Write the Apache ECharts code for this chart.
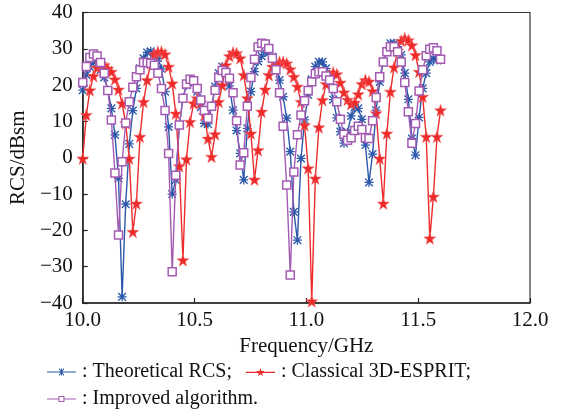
<!DOCTYPE html>
<html>
<head>
<meta charset="utf-8">
<script src="https://cdn.jsdelivr.net/npm/echarts@6/dist/echarts.min.js"></script>
<style>
html,body{margin:0;padding:0;background:#fff;}
#chart{width:566px;height:417px;}
</style>
</head>
<body>
<div id="chart"></div>
<script>
// Frequency samples (GHz)
const freqs = [10, 10.016, 10.032, 10.048, 10.064, 10.08, 10.096, 10.112, 10.128, 10.144,
  10.16, 10.176, 10.192, 10.208, 10.224, 10.24, 10.256, 10.272, 10.288, 10.304,
  10.32, 10.336, 10.352, 10.368, 10.384, 10.4, 10.416, 10.432, 10.448, 10.464,
  10.48, 10.496, 10.512, 10.528, 10.544, 10.56, 10.576, 10.592, 10.608, 10.624,
  10.64, 10.656, 10.672, 10.688, 10.704, 10.72, 10.736, 10.752, 10.768, 10.784,
  10.8, 10.816, 10.832, 10.848, 10.864, 10.88, 10.896, 10.912, 10.928, 10.944,
  10.96, 10.976, 10.992, 11.008, 11.024, 11.04, 11.056, 11.072, 11.088, 11.104,
  11.12, 11.136, 11.152, 11.168, 11.184, 11.2, 11.216, 11.232, 11.248, 11.264,
  11.28, 11.296, 11.312, 11.328, 11.344, 11.36, 11.376, 11.392, 11.408, 11.424,
  11.44, 11.456, 11.472, 11.488, 11.504, 11.52, 11.536, 11.552, 11.568, 11.584, 11.6];

// Theoretical RCS (dBsm)
const theoretical = [18.6, 22.8, 25, 26.4, 26, 24.2, 22.1, 18.6, 13.6, 6.3,
  -5.7, -38.3, -12.8, 3.8, 13, 19.1, 24.6, 27.4, 29, 29.3,
  28.8, 27.4, 24.5, 18.2, 8.5, -10, -6.1, 9, 16.4, 20,
  21.6, 20.5, 18.2, 13.9, 9.5, 9.3, 14.2, 19.6, 23.3, 25.1,
  23.7, 19.8, 13.1, 7.5, 1.2, -6.1, 8.1, 18.2, 23.7, 26.5,
  28, 29, 29, 27.8, 25.5, 21.4, 16.8, 10.9, 1.7, -14.9,
  -22.7, -0.2, 10.4, 17.3, 21.6, 25.1, 26.4, 26.4, 24.6, 20.5,
  16, 11, 7.2, 4, 7, 11.5, 13.9, 13.6, 10.6, 3.5,
  -6.8, 1, 13.1, 20.9, 26.4, 29.2, 31.5, 31.5, 30.6, 28.3,
  23.3, 16.1, 5.3, 0.7, 11.1, 19.1, 23.3, 26.4, 27.4, 26.9, 26.9];

// Classical 3D-ESPRIT (dBsm)
const classical = [-0.2, 11.8, 18.6, 22.5, 24.8, 25.8, 25.5, 24.6, 23.7, 21.6,
  18.8, 15, 9.5, -0.2, -20.4, -12.6, 5.8, 15.4, 21.4, 26,
  28.5, 29.2, 29.2, 28.5, 25.1, 20.5, 12.2, -2.3, -28.2, -0.4,
  9.9, 15, 16.4, 15.2, 11.8, 5.3, 0.3, 6.5, 15.4, 20,
  25.5, 28, 29, 28.8, 27.4, 22.8, 16.4, 6.7, -6, 2.1,
  12.7, 18.8, 22.8, 25.1, 26, 26.4, 26.4, 26, 24.4, 22.3,
  19.6, 15.4, 9, -2.9, -39.5, -5.7, 8.4, 15.9, 20.3, 22.8,
  23.5, 23, 20.7, 18, 16, 14.8, 15.2, 17.5, 20.3, 21.4,
  21, 18.4, 12.3, -0.2, -12.6, 6.7, 18.2, 24.9, 29.5, 32.2,
  32.9, 32.4, 31, 28.3, 23.7, 16.8, 5.8, -22.2, -10.7, 5.8, 13.1];

// Improved algorithm (dBsm)
const improved = [20.7, 25.1, 27.6, 28.6, 28, 26.2, 23.3, 18.5, 10.4, -4.2,
  -21.3, -1.1, 9.6, 15.4, 19.4, 22.3, 24.2, 26.2, 26.2, 26,
  25.5, 23.3, 19.1, 13, 1.2, -31.4, -4.8, 9, 16.4, 20.3,
  21.6, 21.2, 19.1, 15.9, 13, 10.9, 14.2, 18.6, 22.1, 24,
  23.5, 21.9, 17.9, 10.2, -2, 1.4, 14.2, 22.1, 27.1, 30.5,
  31.5, 31.3, 30.1, 27.4, 24.2, 17.9, 8.7, -7.5, -32.3, -3.9,
  6.3, 11.8, 15.7, 18.5, 20.9, 23.1, 23.7, 23.7, 22.5, 21.4,
  19.1, 15.4, 10.6, 6.5, 4.8, 5.5, 7.5, 8.7, 7.8, 5.5,
  5.3, 10.2, 16.6, 22.3, 26.4, 29.2, 30.6, 30.6, 29.2, 26.4,
  20.7, 12.7, 4, 9.4, 18.4, 24.2, 28.1, 29.9, 30.3, 29.5, 27.1];

const seriesNames = ['Theoretical RCS', 'Classical 3D-ESPRIT', 'Improved algorithm'];
const legendTexts = [': Theoretical RCS;', ': Classical 3D-ESPRIT;', ': Improved algorithm.'];

const xMin = 10, xMax = 12, xStep = 0.5;
const yMin = -40, yMax = 40, yStep = 10;

const FONT = '"Liberation Serif", "DejaVu Serif", serif';
const BLUE = '#2B58AA', RED = '#EE2B2B', PURPLE = '#A35BB3';

const asterisk = 'path://M0 8.6H20V11.4H0Z M8.6 0H11.4V20H8.6Z M0.44 2.56L2.56 0.44L19.56 17.44L17.44 19.56Z M17.44 0.44L19.56 2.56L2.56 19.56L0.44 17.44Z';
const star = 'path://M10 0L12.35 6.76L19.51 6.91L13.8 11.24L15.88 18.09L10 14L4.12 18.09L6.2 11.24L0.49 6.91L7.65 6.76Z';

// legend icons: short line with a small marker, drawn in a 29-px-wide box
const legAsterisk = 'path://M0 2.9H29V4.1H0Z M11 3.05H18V3.95H11Z M14.05 0H14.95V7H14.05Z M11.8 0.5L12.5 -0.2L17.2 6.5L16.5 7.2Z M16.5 -0.2L17.2 0.5L12.5 7.2L11.8 6.5Z';
const legStar = 'path://M0 3.8H29V5H0Z M14.5 0L15.53 2.97L18.68 3.04L16.17 4.95L17.09 7.96L14.5 6.16L11.91 7.96L12.83 4.95L10.32 3.04L13.47 2.97Z';
const legSquare = 'path://M0 2.45H11.5V3.55H0Z M17.5 2.45H29V3.55H17.5Z M11.5 0H17.5V6H11.5Z M12.6 1.1V4.9H16.4V1.1Z';

function pairs(vals){ return freqs.map((f,i)=>[f, vals[i]]); }

const chart = echarts.init(document.getElementById('chart'), null, {renderer:'canvas'});
const legendFmt = name => legendTexts[seriesNames.indexOf(name)];
const legendBase = {
  orient: 'horizontal', itemWidth: 29, itemGap: 14,
  textStyle: {fontFamily: FONT, fontSize: 20, color: '#111', padding:[0,0,0,1]},
  formatter: legendFmt, selectedMode: false, padding: 0
};
chart.setOption({
  animation: false,
  backgroundColor: '#fff',
  grid: {left: 81, right: 36, top: 12.5, bottom: 114, show: true, borderColor: '#333', borderWidth: 1.2, backgroundColor: 'transparent'},
  legend: [
    Object.assign({}, legendBase, {left: 47, top: 362, itemHeight: 8, data: [
      {name: seriesNames[0], icon: legAsterisk, itemStyle: {color: BLUE, borderWidth: 0}},
      {name: seriesNames[1], icon: legStar, itemStyle: {color: RED, borderWidth: 0}}
    ]}),
    Object.assign({}, legendBase, {left: 47, top: 389, itemHeight: 6, data: [
      {name: seriesNames[2], icon: legSquare, itemStyle: {color: PURPLE, borderWidth: 0}}
    ]})
  ],
  xAxis: {
    type: 'value', min: xMin, max: xMax, interval: xStep,
    name: 'Frequency/GHz', nameLocation: 'middle', nameGap: 29,
    nameTextStyle: {fontFamily: FONT, fontSize: 21, color: '#111'},
    axisLine: {onZero: false, lineStyle: {color: '#222', width: 1.5}},
    axisTick: {inside: true, length: 5, lineStyle: {color: '#222', width: 1.2}},
    axisLabel: {fontFamily: FONT, fontSize: 21, color: '#111', margin: 7, formatter: v => v.toFixed(1)},
    splitLine: {show: false}
  },
  yAxis: {
    type: 'value', min: yMin, max: yMax, interval: yStep,
    name: 'RCS/dBsm', nameLocation: 'middle', nameGap: 38, nameRotate: 90,
    nameTextStyle: {fontFamily: FONT, fontSize: 21, color: '#111'},
    axisLine: {onZero: false, lineStyle: {color: '#222', width: 1.5}},
    axisTick: {inside: true, length: 5, lineStyle: {color: '#222', width: 1.2}},
    axisLabel: {fontFamily: FONT, fontSize: 21, color: '#111', margin: 10, formatter: v => v < 0 ? '\u2212' + Math.abs(v) : String(v)},
    splitLine: {show: false}
  },
  series: [
    {name: seriesNames[0], type: 'line', data: pairs(theoretical), symbol: asterisk, symbolSize: 9,
     lineStyle: {color: BLUE, width: 1.4}, itemStyle: {color: BLUE}, z: 2},
    {name: seriesNames[1], type: 'line', data: pairs(classical), symbol: star, symbolSize: 12,
     lineStyle: {color: RED, width: 1.4}, itemStyle: {color: RED, borderColor: '#F56a6a', borderWidth: 0.5}, z: 3},
    {name: seriesNames[2], type: 'line', data: pairs(improved), symbol: 'rect', symbolSize: 8,
     lineStyle: {color: PURPLE, width: 1.4}, itemStyle: {color: '#fff', borderColor: PURPLE, borderWidth: 1.5}, z: 4}
  ]
});
</script>
</body>
</html>
